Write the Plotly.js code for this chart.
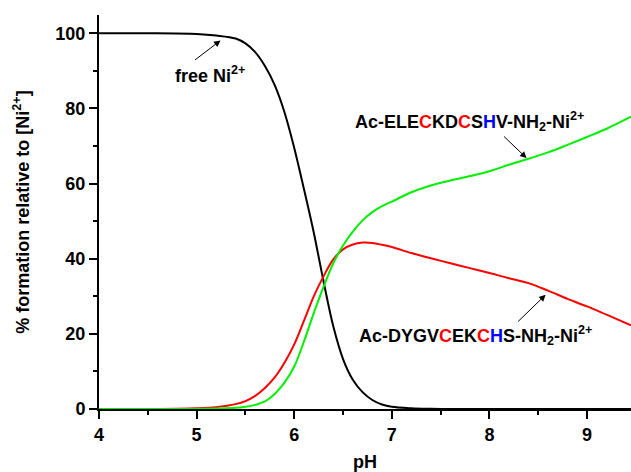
<!DOCTYPE html>
<html>
<head>
<meta charset="utf-8">
<script src="https://cdn.plot.ly/plotly-3.0.1.min.js"></script>
<style>html,body{margin:0;padding:0;background:#fff;}#chart{width:631px;height:472px;}</style>
</head>
<body>
<div id="chart"></div>
<script>
const pH = [4, 4.5, 5, 5.2, 5.4, 5.5, 5.6, 5.7, 5.8, 5.9, 6.0, 6.1, 6.2, 6.3, 6.4, 6.5, 6.6, 6.7, 6.8, 6.9, 7.0, 7.2, 7.4, 7.6, 7.8, 8.0, 8.2, 8.4, 8.6, 8.8, 9.0, 9.2, 9.45];
const freeNi = [100, 100, 99.8, 99.4, 98.6, 97.3, 95, 91.3, 86.2, 79, 69.5, 58.5, 47, 34, 22, 13.3, 7.8, 4.5, 2.4, 1.2, 0.6, 0.2, 0.05, 0, 0, 0, 0, 0, 0, 0, 0, 0, 0];
const dygv = [0, 0, 0.2, 0.5, 1.3, 2.1, 3.5, 5.6, 8.4, 12.3, 17.2, 23.5, 30, 35.3, 39.8, 42.5, 43.8, 44.3, 44.2, 43.7, 43.1, 41.5, 40.1, 38.8, 37.5, 36.2, 34.8, 33.5, 31.5, 29.3, 27.3, 25.1, 22.3];
const elec = [0, 0, 0, 0.1, 0.3, 0.6, 1.1, 2.0, 4.0, 7.0, 11.3, 18, 25.5, 32.5, 38.8, 43.5, 47.2, 50.2, 52.4, 54.0, 55.2, 57.7, 59.5, 60.8, 62.0, 63.3, 65.0, 66.6, 68.3, 70.3, 72.4, 74.6, 77.8];

const xTicks = [4, 5, 6, 7, 8, 9];
const yTicks = [0, 20, 40, 60, 80, 100];

const FONT = "Liberation Sans, Arial, sans-serif";
const R = '<span style="color:#ff0000">C</span>';
const B = '<span style="color:#0000ff">H</span>';

const lbl = {
  free: '<b>free Ni<sup>2+</sup></b>',
  elec: '<b>Ac-ELE' + R + 'KD' + R + 'S' + B + 'V-NH<sub>2</sub>-Ni<sup>2+</sup></b>',
  dygv: '<b>Ac-DYGV' + R + 'EK' + R + B + 'S-NH<sub>2</sub>-Ni<sup>2+</sup></b>'
};

const traces = [
  {x: pH, y: freeNi, mode: 'lines', line: {color: '#000000', width: 2, shape: 'spline', smoothing: 1}, hoverinfo: 'skip'},
  {x: pH, y: dygv, mode: 'lines', line: {color: '#ff0000', width: 2, shape: 'spline', smoothing: 1}, hoverinfo: 'skip'},
  {x: pH, y: elec, mode: 'lines', line: {color: '#00f000', width: 2, shape: 'spline', smoothing: 1}, hoverinfo: 'skip'}
];

const annFont = {family: FONT, size: 18, color: '#000'};
const arrow = (x, y, ax, ay) => ({
  x: x, y: y, ax: ax, ay: ay, xref: 'x', yref: 'y', axref: 'x', ayref: 'y',
  text: '', showarrow: true, arrowhead: 2, arrowsize: 1.3, arrowwidth: 1, arrowcolor: '#000'
});

const layout = {
  width: 631, height: 472,
  margin: {l: 99, r: 0, t: 15, b: 63},
  paper_bgcolor: '#fff', plot_bgcolor: '#fff',
  showlegend: false,
  font: {family: FONT, size: 18, color: '#000'},
  xaxis: {
    range: [4, 9.45], tickvals: xTicks, ticktext: xTicks.map(String),
    showgrid: false, zeroline: false, showline: true, linewidth: 2, linecolor: '#000',
    ticks: 'outside', ticklen: 8, tickwidth: 2, tickcolor: '#000',
    minor: {tickvals: [4.5, 5.5, 6.5, 7.5, 8.5], ticks: 'outside', ticklen: 4, tickwidth: 2, tickcolor: '#000', showgrid: false},
    tickfont: {family: FONT, size: 18, color: '#000', weight: 'bold'},
    title: {text: '<b>pH</b>', font: {family: FONT, size: 18, color: '#000'}, standoff: 17}
  },
  yaxis: {
    range: [0, 104.87], tickvals: yTicks, ticktext: yTicks.map(String),
    showgrid: false, zeroline: false, showline: true, linewidth: 2, linecolor: '#000',
    ticks: 'outside', ticklen: 8, tickwidth: 2, tickcolor: '#000',
    minor: {tickvals: [10, 30, 50, 70, 90], ticks: 'outside', ticklen: 4, tickwidth: 2, tickcolor: '#000', showgrid: false},
    tickfont: {family: FONT, size: 18, color: '#000', weight: 'bold'},
    title: {text: '<b>% formation relative to [Ni<sup>2+</sup>]</b>', font: {family: FONT, size: 18, color: '#000'}, standoff: 21}
  },
  annotations: [
    {x: 4.763, y: 89.1, xref: 'x', yref: 'y', xanchor: 'left', yanchor: 'middle', text: lbl.free, showarrow: false, font: annFont},
    {x: 6.597, y: 76.5, xref: 'x', yref: 'y', xanchor: 'left', yanchor: 'middle', text: lbl.elec, showarrow: false, font: annFont},
    {x: 6.638, y: 19.6, xref: 'x', yref: 'y', xanchor: 'left', yanchor: 'middle', text: lbl.dygv, showarrow: false, font: annFont},
    arrow(5.245, 98.1, 4.968, 92.6),
    arrow(8.38, 66.8, 8.134, 72.9),
    arrow(8.575, 30.4, 8.278, 22.9)
  ]
};

Plotly.newPlot('chart', traces, layout, {staticPlot: true, displayModeBar: false});
</script>
</body>
</html>
